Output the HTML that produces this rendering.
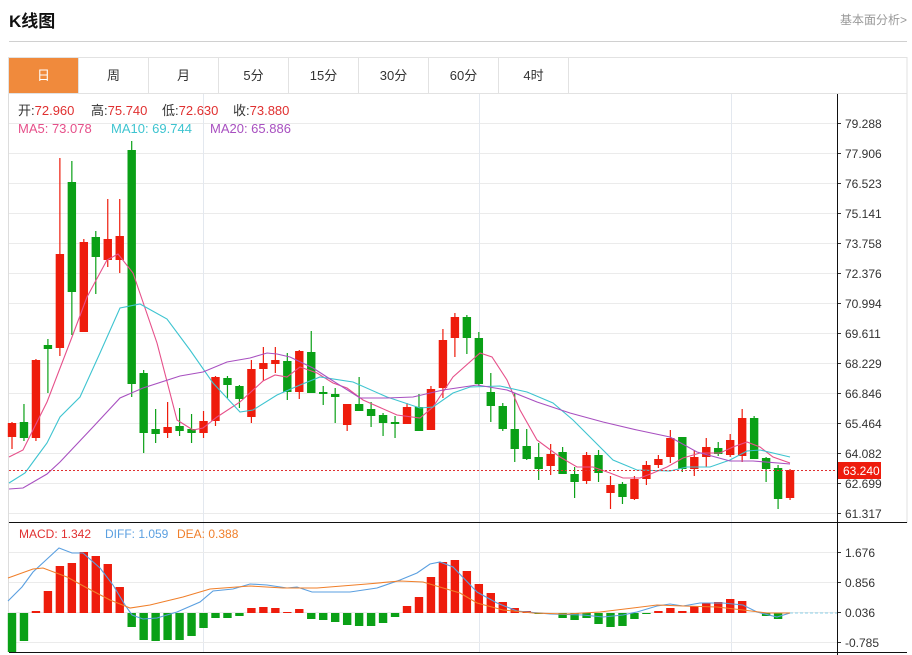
<!DOCTYPE html>
<html><head><meta charset="utf-8">
<style>
body{margin:0;background:#fff;width:912px;height:655px;overflow:hidden;font-family:"Liberation Sans","Noto Sans CJK SC",sans-serif;}
</style></head><body>
<svg id="s" width="912" height="655" xmlns="http://www.w3.org/2000/svg" style="position:absolute;left:0;top:0;font-family:'Liberation Sans','Noto Sans CJK SC',sans-serif"></svg>
<script>
const s=document.getElementById('s');let h='';
h+='<text x="9" y="27" font-size="17" font-weight="bold" fill="#111">K线图</text>';
h+='<text x="907" y="24" font-size="12" fill="#999" text-anchor="end">基本面分析&gt;</text>';
h+='<line x1="9" y1="41.5" x2="907" y2="41.5" stroke="#d0d0d0"/>';
h+='<rect x="8.5" y="57.5" width="898.5" height="465" fill="none" stroke="#e2e2e2"/>';
h+='<line x1="8.5" y1="93.5" x2="907" y2="93.5" stroke="#e2e2e2"/>';
h+='<rect x="9" y="58" width="69.5" height="35" fill="#f08a3c"/>';
const tabs=['日','周','月','5分','15分','30分','60分','4时'];
tabs.forEach((t,i)=>{const x=8.5+i*70;h+=`<text x="${x+35}" y="80" font-size="13" text-anchor="middle" fill="${i?'#333':'#fff'}">${t}</text>`;h+=`<line x1="${x+70}" y1="58" x2="${x+70}" y2="93" stroke="#e2e2e2"/>`;});
const labs=['79.288','77.906','76.523','75.141','73.758','72.376','70.994','69.611','68.229','66.846','65.464','64.082','62.699','61.317'];
labs.forEach((l,i)=>{const y=123.5+i*30;h+=`<line x1="9" y1="${y}" x2="837" y2="${y}" stroke="#ebebeb"/><line x1="837" y1="${y}" x2="841" y2="${y}" stroke="#333"/><text x="845" y="${y+4.5}" font-size="12" fill="#333">${l}</text>`;});
[203.5,479.5,731.5].forEach(x=>{h+=`<line x1="${x}" y1="94" x2="${x}" y2="652" stroke="#e3e8ef"/>`;});
const ml=[[1.676,552.5],[0.856,582.5],[0.036,612.5],[-0.785,642.5]];
ml.forEach(([l,y])=>{h+=`<line x1="9" y1="${y}" x2="837" y2="${y}" stroke="#ebebeb"/><line x1="837" y1="${y}" x2="841" y2="${y}" stroke="#333"/><text x="845" y="${y+4.5}" font-size="12" fill="#333">${l.toFixed(3)}</text>`;});
h+='<line x1="8.5" y1="94" x2="8.5" y2="652" stroke="#ddd"/>';
h+='<line x1="9" y1="522.5" x2="907" y2="522.5" stroke="#111"/><line x1="9" y1="652.5" x2="907" y2="652.5" stroke="#111"/>';
h+='<line x1="837.5" y1="94" x2="837.5" y2="655" stroke="#111"/>';
const C=[['r',423,437,422,449],['g',422,438,404,441],['r',360,438,359,441],['g',345,349,339,393],['r',254,348,158,356],['g',182,292,161,335],['r',242,332,239,332],['g',237,257,231,294],['r',239,260,199,267],['r',236,260,199,273],['g',150,384,141,397],['g',373,433,370,453],['g',429,434,409,443],['r',427,433,402,438],['g',426,431,408,436],['g',429,433,414,443],['r',421,433,411,438],['r',377,421,376,426],['g',378,385,376,398],['g',386,399,385,408],['r',369,417,360,423],['r',363,369,347,381],['r',360,364,347,373],['g',361,392,353,400],['r',351,392,350,399],['g',352,393,331,393],['g',392,394,386,405],['g',394,397,388,423],['r',404,425,404,431],['g',404,411,377,411],['g',409,416,402,427],['g',415,423,413,436],['g',422,423,416,438],['r',407,424,403,424],['g',407,431,394,431],['r',389,430,386,430],['r',340,388,329,398],['r',317,338,313,357],['g',317,338,315,354],['g',338,384,332,386],['g',392,406,373,422],['g',406,429,403,431],['g',429,449,393,462],['g',446,459,429,460],['g',457,469,443,480],['r',454,466,444,475],['g',452,474,447,474],['g',474,482,467,498],['r',455,481,452,484],['g',455,473,450,482],['r',485,493,476,509],['g',484,497,482,504],['r',479,499,476,500],['r',465,479,461,485],['r',459,465,455,468],['r',438,457,430,463],['g',437,469,437,472],['r',457,469,450,476],['r',447,457,438,467],['g',448,454,442,456],['r',440,455,434,457],['r',418,456,409,462],['g',418,459,416,459],['g',458,469,457,482],['g',468,499,465,509],['r',470,498,469,500]];
const X=i=>12+i*11.97;const col=c=>c=='r'?'#ee1c0c':'#0aa016';
C.forEach((c,i)=>{const x=X(i);h+=`<line x1="${x}" y1="${c[3]}" x2="${x}" y2="${c[4]}" stroke="${col(c[0])}" stroke-width="1.2"/><rect x="${x-4.2}" y="${c[1]}" width="8.4" height="${Math.max(c[2]-c[1],2)}" fill="${col(c[0])}"/>`;});
const pl=(p,c)=>{h+=`<polyline fill="none" stroke="${c}" stroke-width="1.1" points="${p}"/>`;};
pl('9,457 23,450 47,402 72,337 87,297 107,260 118,254 133,273 157,343 177,420 193,430 203,428 217,417 240,402 263,381 275,375 287,377 300,367 317,373 333,383 347,388 363,400 397,415 420,418 433,407 453,377 480,353 492,357 507,380 520,410 537,440 560,457 577,467 593,467 610,473 623,478 640,478 653,473 667,467 683,458 700,453 720,453 733,447 747,442 760,447 773,457 790,463','#e6508a');
pl('9,483 25,473 33,462 47,443 60,417 80,397 100,353 120,308 140,304 167,319 190,350 213,383 240,412 253,410 277,395 300,385 320,377 353,382 387,397 420,408 433,407 453,393 470,387 500,386 527,392 553,403 573,420 593,440 613,460 637,470 670,471 687,467 710,467 730,460 747,451 760,450 790,457','#3ec4d0');
pl('9,489 23,488 47,474 60,462 93,427 120,398 143,388 180,376 203,372 227,362 250,358 267,353 277,354 290,357 313,368 330,379 360,398 387,398 413,397 443,390 477,385 507,390 537,402 570,413 603,422 637,430 670,437 697,452 730,461 753,461 790,464','#a850c0');
h+='<line x1="9" y1="470.5" x2="837" y2="470.5" stroke="#e03030" stroke-dasharray="2,2"/>';
h+='<rect x="838" y="462" width="43" height="17" fill="#ee1c0c"/><text x="843" y="475" font-size="12" fill="#fff">63.240</text>';
const info=[[18,'开:','72.960'],[91,'高:','75.740'],[162,'低:','72.630'],[233,'收:','73.880']];
info.forEach(([x,a,b])=>{h+=`<text x="${x}" y="115" font-size="13" fill="#333">${a}<tspan fill="#e03030">${b}</tspan></text>`;});
h+='<text x="18" y="133" font-size="13" fill="#e6508a">MA5: 73.078</text><text x="111" y="133" font-size="13" fill="#3ec4d0">MA10: 69.744</text><text x="210" y="133" font-size="13" fill="#a850c0">MA20: 65.886</text>';
const M=[652,641,611,591,566,563,552,556,564,587,627,640,641,640,640,636,628,618,618,616,608,607,608,612,609,619,620,622,625,626,626,623,617,606,597,577,562,560,571,584,593,602,608,611,614,613,618,620,618,624,627,626,619,614,611,608,611,606,603,602,599,601,613,616,619,613];
const Z=613;
M.forEach((v,i)=>{if(Math.abs(v-Z)<1)return;const x=X(i);const y=Math.min(v,Z),hh=Math.abs(v-Z);h+=`<rect x="${x-4.2}" y="${y}" width="8.4" height="${hh}" fill="${v<Z?'#ee1c0c':'#0aa016'}"/>`;});
h+='<line x1="790" y1="613" x2="837" y2="613" stroke="#8cd0e8" stroke-dasharray="3,2"/>';
pl('8,601 22,587 33,572 59,548 72,553 83,553 100,568 113,585 125,605 132,615 143,619 157,618 177,612 200,602 213,591 233,589 250,584 267,585 287,588 297,587 312,592 350,592 377,588 400,580 417,573 430,564 440,562 453,567 477,592 497,603 517,611 550,614 583,615 603,617 623,615 637,612 657,606 670,604 683,606 700,603 723,603 743,605 757,612 777,617 790,613','#5a9fe0');
pl('8,578 33,569 43,568 67,577 87,588 110,600 130,608 150,605 183,597 210,589 250,586 283,588 317,588 367,584 400,581 423,582 460,593 477,603 503,610 533,613 567,614 600,612 633,608 657,605 683,606 717,607 743,610 767,613 790,613','#f07f2a');
h+='<text x="19" y="538" font-size="12" fill="#e03030">MACD: 1.342</text><text x="105" y="538" font-size="12" fill="#5a9fe0">DIFF: 1.059</text><text x="177" y="538" font-size="12" fill="#f07f2a">DEA: 0.388</text>';
s.innerHTML=h;
</script>
</body></html>
